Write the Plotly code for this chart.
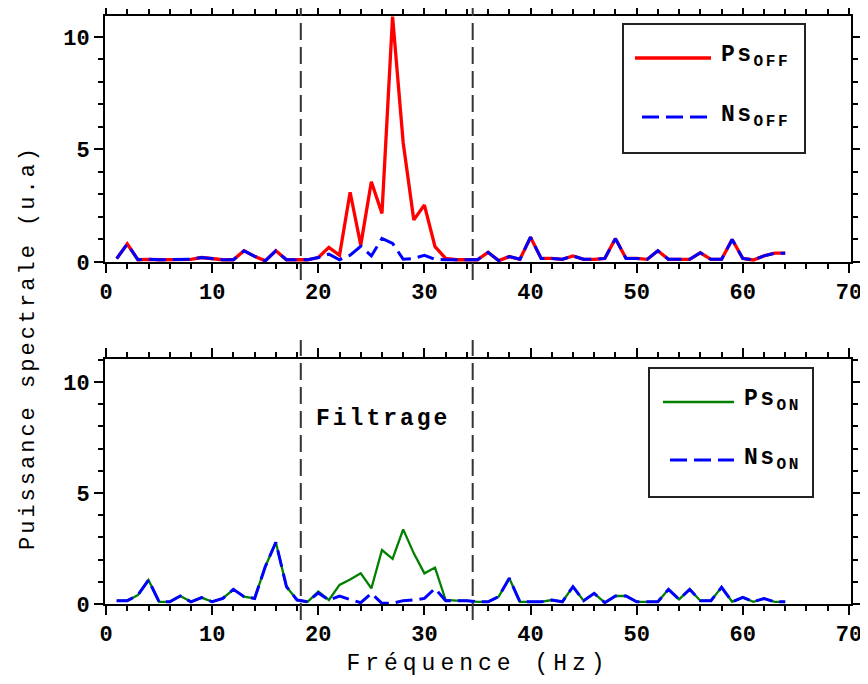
import plotly.graph_objects as go

freq = list(range(1, 65))

ps_off = [0.15, 0.8, 0.1, 0.12, 0.1, 0.1, 0.1, 0.12, 0.2, 0.15,
          0.1, 0.1, 0.5, 0.25, 0.05, 0.5, 0.1, 0.1, 0.1, 0.2,
          0.65, 0.3, 3.1, 0.75, 3.57, 2.16, 10.9, 5.3, 1.87, 2.53,
          0.68, 0.16, 0.1, 0.1, 0.1, 0.43, 0.06, 0.24, 0.12, 1.1,
          0.16, 0.16, 0.12, 0.27, 0.12, 0.12, 0.16, 1.04, 0.16, 0.16,
          0.12, 0.5, 0.12, 0.12, 0.12, 0.41, 0.12, 0.12, 1.0, 0.16,
          0.09, 0.27, 0.39, 0.39]

ns_off = [0.15, 0.8, 0.1, 0.12, 0.1, 0.1, 0.1, 0.12, 0.2, 0.15,
          0.1, 0.1, 0.5, 0.25, 0.05, 0.5, 0.1, 0.1, 0.1, 0.2,
          0.35, 0.1, 0.3, 0.7, 0.27, 1.05, 0.83, 0.12, 0.16, 0.3,
          0.12, 0.1, 0.1, 0.1, 0.1, 0.43, 0.06, 0.24, 0.12, 1.1,
          0.16, 0.16, 0.12, 0.27, 0.12, 0.12, 0.16, 1.04, 0.16, 0.16,
          0.12, 0.5, 0.12, 0.12, 0.12, 0.41, 0.12, 0.12, 1.0, 0.16,
          0.09, 0.27, 0.39, 0.39]

ps_on = [0.15, 0.15, 0.4, 1.08, 0.1, 0.1, 0.36, 0.1, 0.29, 0.1,
         0.25, 0.66, 0.33, 0.25, 1.68, 2.78, 0.78, 0.18, 0.1, 0.56,
         0.18, 0.86, 1.1, 1.38, 0.7, 2.43, 2.03, 3.36, 2.28, 1.38,
         1.64, 0.18, 0.15, 0.15, 0.1, 0.1, 0.33, 1.16, 0.1, 0.1,
         0.1, 0.18, 0.1, 0.78, 0.15, 0.48, 0.06, 0.36, 0.36, 0.1,
         0.1, 0.1, 0.66, 0.21, 0.66, 0.15, 0.15, 0.75, 0.1, 0.3,
         0.1, 0.25, 0.1, 0.1]

ns_on = [0.15, 0.15, 0.4, 1.08, 0.1, 0.1, 0.36, 0.1, 0.29, 0.1,
         0.25, 0.66, 0.33, 0.25, 1.68, 2.78, 0.78, 0.18, 0.1, 0.5,
         0.18, 0.36, 0.2, 0.06, 0.48, 0.03, 0.03, 0.15, 0.18, 0.25,
         0.7, 0.15, 0.15, 0.15, 0.1, 0.1, 0.33, 1.16, 0.1, 0.1,
         0.1, 0.18, 0.1, 0.78, 0.15, 0.48, 0.06, 0.36, 0.36, 0.1,
         0.1, 0.1, 0.66, 0.21, 0.66, 0.15, 0.15, 0.75, 0.1, 0.3,
         0.1, 0.25, 0.1, 0.1]

filter_band = [18.35, 34.55]
x_ticks = [0, 10, 20, 30, 40, 50, 60, 70]
y_ticks = [0, 5, 10]

series_names = ["Ps<sub>OFF</sub>", "Ns<sub>OFF</sub>", "Ps<sub>ON</sub>", "Ns<sub>ON</sub>"]
series_colors = ["#ff0000", "#0000ff", "#008000", "#0000ff"]

# the page body keeps its default 8px margin: the figure is sized to fit the window
PAGE_OFF = 8
W, H = 868 - PAGE_OFF, 684 - PAGE_OFF
MONO = "Liberation Mono, Courier New, monospace"
DASH = "17px,7px"


def px_x(p):
    return (p - PAGE_OFF) / W


def px_y(p):
    return 1 - (p - PAGE_OFF) / H


def spaced(text, sp):
    return "<span style='letter-spacing:%spx'>%s</span>" % (sp, text)


fig = go.Figure()
fig.add_trace(go.Scatter(x=freq, y=ps_off, mode="lines", name=series_names[0],
                         line=dict(color=series_colors[0], width=3.3), xaxis="x", yaxis="y",
                         showlegend=False))
fig.add_trace(go.Scatter(x=freq, y=ns_off, mode="lines", name=series_names[1],
                         line=dict(color=series_colors[1], width=3, dash=DASH), xaxis="x", yaxis="y",
                         showlegend=False))
fig.add_trace(go.Scatter(x=freq, y=ps_on, mode="lines", name=series_names[2],
                         line=dict(color=series_colors[2], width=2.3), xaxis="x2", yaxis="y2",
                         showlegend=False))
fig.add_trace(go.Scatter(x=freq, y=ns_on, mode="lines", name=series_names[3],
                         line=dict(color=series_colors[3], width=3, dash=DASH), xaxis="x2", yaxis="y2",
                         showlegend=False))

tickfont = dict(family=MONO, size=22, color="black", weight="bold")


def xax(anchor):
    return dict(domain=[px_x(105), px_x(851)], range=[-0.1, 70.2], anchor=anchor,
                tickvals=x_ticks, ticks="outside", ticklen=9, tickwidth=2, tickcolor="black",
                showline=True, linecolor="black", linewidth=2, mirror="allticks",
                showgrid=False, zeroline=False, tickfont=tickfont, automargin=False,
                ticklabelstandoff=0,
                minor=dict(dtick=2, tick0=0, ticks="outside", ticklen=5, tickwidth=1.5,
                           tickcolor="black", showgrid=False))


def yax(anchor, dom, top):
    return dict(domain=dom, range=[0, top], anchor=anchor,
                tickvals=y_ticks, ticks="outside", ticklen=9, tickwidth=2, tickcolor="black",
                showline=True, linecolor="black", linewidth=2, mirror="allticks",
                showgrid=False, zeroline=False, tickfont=tickfont, automargin=False,
                minor=dict(dtick=1, tick0=0, ticks="outside", ticklen=5, tickwidth=1.5,
                           tickcolor="black", showgrid=False))


fig.update_layout(
    width=W, height=H, margin=dict(l=0, r=0, t=0, b=0, autoexpand=False),
    paper_bgcolor="white", plot_bgcolor="white",
    xaxis=xax("y"),
    yaxis=yax("x", [px_y(262), px_y(16)], 10.93),
    xaxis2=dict(xax("y2"), title=dict(text=spaced("Fréquence (Hz)", 5),
                                      font=dict(family=MONO, size=23, color="black"), standoff=6)),
    yaxis2=yax("x2", [px_y(604), px_y(359)], 11.03),
    showlegend=False,
)

# filter band boundaries
for fb in filter_band:
    for y0, y1 in [(px_y(280), px_y(PAGE_OFF)), (px_y(620), px_y(340))]:
        fig.add_shape(type="line", xref="x", yref="paper", x0=fb, x1=fb, y0=y0, y1=y1,
                      line=dict(color="#333333", width=2, dash="17px,7px"))

# framed legends
legends = [
    dict(box=(623, 805, 24, 153), solid=(635, 711), dashed=(642, 707), ly=(58, 117),
         tx=719, ty=(57, 116), idx=(0, 1)),
    dict(box=(649, 813, 368, 497), solid=(663, 734), dashed=(670, 734), ly=(402, 460),
         tx=742, ty=(400, 459), idx=(2, 3)),
]
for lg in legends:
    bx0, bx1, by0, by1 = lg["box"]
    fig.add_shape(type="rect", xref="paper", yref="paper",
                  x0=px_x(bx0), x1=px_x(bx1), y0=px_y(by1), y1=px_y(by0),
                  line=dict(color="#222222", width=2), fillcolor="white", layer="above")
    i0, i1 = lg["idx"]
    fig.add_shape(type="line", xref="paper", yref="paper",
                  x0=px_x(lg["solid"][0]), x1=px_x(lg["solid"][1]),
                  y0=px_y(lg["ly"][0]), y1=px_y(lg["ly"][0]),
                  line=dict(color=series_colors[i0], width=3.3 if i0 == 0 else 2.6))
    fig.add_shape(type="line", xref="paper", yref="paper",
                  x0=px_x(lg["dashed"][0]), x1=px_x(lg["dashed"][1]),
                  y0=px_y(lg["ly"][1]), y1=px_y(lg["ly"][1]),
                  line=dict(color=series_colors[i1], width=3, dash=DASH))
    for k, i in enumerate((i0, i1)):
        fig.add_annotation(text=spaced(series_names[i], 2.5), xref="paper", yref="paper",
                           x=px_x(lg["tx"]), y=px_y(lg["ty"][k]), xanchor="left", yanchor="middle",
                           showarrow=False,
                           font=dict(family=MONO, size=23, color="black", weight="bold"))

fig.add_annotation(text=spaced("Puissance spectrale (u.a)", 3), xref="paper", yref="paper",
                   x=px_x(28), y=px_y(348), xanchor="center", yanchor="middle",
                   textangle=-90, showarrow=False,
                   font=dict(family=MONO, size=22, color="black"))
fig.add_annotation(text=spaced("Filtrage", 3), xref="paper", yref="paper",
                   x=px_x(383), y=px_y(419), xanchor="center", yanchor="middle", showarrow=False,
                   font=dict(family=MONO, size=23, color="black", weight="bold"))

fig.write_html("out.html")
